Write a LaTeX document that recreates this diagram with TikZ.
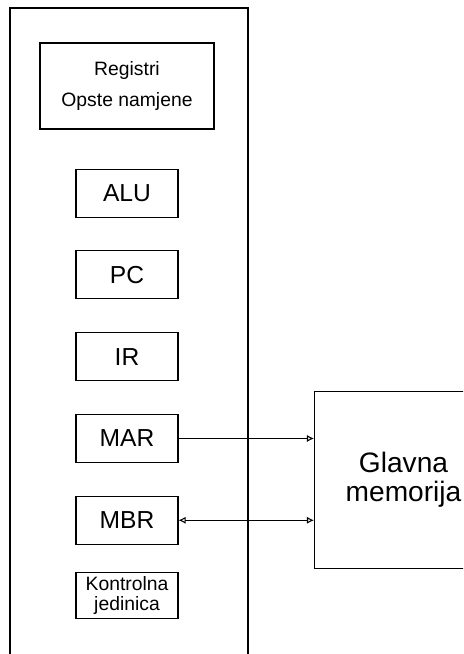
\documentclass[tikz,border=0pt]{standalone}
\usepackage{fontspec}
\setmainfont{Liberation Sans}
\usetikzlibrary{arrows.meta,positioning}

\begin{document}
\begin{tikzpicture}[
    node distance=0.655cm,
    reg/.style={rectangle, draw, line width=0.6pt, minimum width=2.04cm, minimum height=0.96cm, inner sep=0pt, font=\fontsize{14}{15}\selectfont},
    group/.style={rectangle, draw, line width=0.6pt, minimum width=3.48cm, minimum height=1.72cm, align=center, font=\fontsize{11}{18}\selectfont},
    memory/.style={rectangle, draw, line width=0.6pt, minimum width=3.56cm, minimum height=3.54cm, align=center, font=\fontsize{16}{16.5}\selectfont},
    small/.style={rectangle, draw, line width=0.6pt, minimum width=2.04cm, minimum height=0.92cm, inner sep=0pt, align=center, font=\fontsize{11}{11.5}\selectfont},
    cpuline/.style={line width=1pt},
    link/.style={line width=0.6pt, -{Latex[open,length=4pt,width=4pt]}},
    duplex/.style={line width=0.6pt, {Latex[open,length=4pt,width=4pt]}-{Latex[open,length=4pt,width=4pt]}}
]
    \clip (0,0) rectangle (9.26,-13.08);

    % CPU
    \draw[cpuline] (0.2,-13.3) |- (4.96,-0.16) -- (4.96,-13.3);

    % Registers
    \node[group] (regs) at (2.54,-1.72) {Registri\\Opste namjene};
    \node[reg, below=0.78cm of regs] (alu) {ALU};
    \node[reg, below=of alu] (pc) {PC};
    \node[reg, below=of pc] (ir) {IR};
    \node[reg, below=of ir] (mar) {MAR};
    \node[reg, below=of mar] (mbr) {MBR};
    \node[small, below=0.54cm of mbr] (cu) {Kontrolna\\jedinica};

    % Main memory
    \node[memory, anchor=north west] (mem) at (6.28,-7.82) {Glavna\\memorija};

    % Buses
    \draw[link] (mar.east) -- (mar.east -| mem.west);
    \draw[duplex] (mbr.east) -- (mbr.east -| mem.west);
\end{tikzpicture}
\end{document}
